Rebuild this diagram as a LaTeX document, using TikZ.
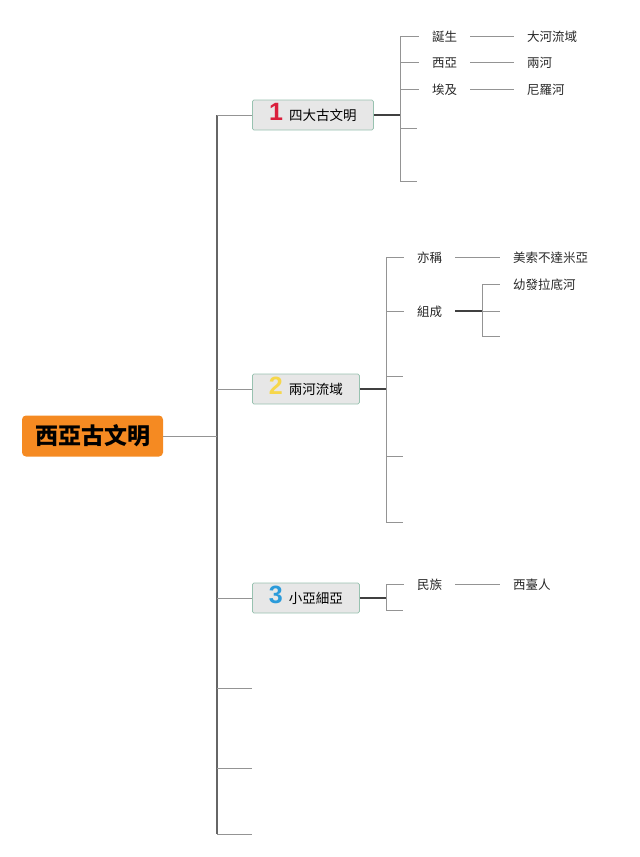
\documentclass[tikz,border=0pt]{standalone}
\usepackage{fontspec}
\setmainfont{Noto Sans CJK TC}
\newfontfamily\numfont{Liberation Sans}
\usetikzlibrary{positioning,calc}
\definecolor{rootorange}{HTML}{F58A22}
\definecolor{boxgray}{HTML}{E7E7E7}
\definecolor{boxedge}{HTML}{98C2B0}
\definecolor{numred}{HTML}{DA1F3C}
\definecolor{numyellow}{HTML}{F6D74B}
\definecolor{numblue}{HTML}{2B9BDA}
\tikzset{rootbox/.style={fill=rootorange,rounded corners=4pt,minimum width=141pt,minimum height=41pt,
		inner sep=0pt,font=\fontsize{23}{26}\selectfont\bfseries}}
\tikzset{topic/.style={fill=boxgray,draw=boxedge,line width=0.8pt,rounded corners=1.5pt,anchor=west,
		minimum height=30pt,inner ysep=0pt,text height=1.0em,text depth=0em,
		font=\fontsize{13.5}{16}\selectfont}}
\tikzset{leaf/.style={anchor=west,inner xsep=13pt,inner ysep=0pt,text height=1.0em,text depth=0em,
		font=\fontsize{12.5}{15}\selectfont,text=black!85}}
\tikzset{trunkline/.style={draw=black!60,line width=1.2pt}}
\tikzset{stemline/.style={draw=black!42,line width=1pt}}
\tikzset{darkline/.style={draw=black!75,line width=1.2pt}}
\newcommand{\topicnum}[2]{\smash{\textcolor{#1}{\numfont\fontsize{25}{25}\selectfont\bfseries #2}}\hspace{6pt}}

\begin{document}
\begin{tikzpicture}[x=1pt,y=-1pt]
	\useasboundingbox (0,0) rectangle (640,857);
	
	\node[rootbox] (root) at (92.5,436) {西亞古文明};
	\node[topic,minimum width=121pt] (t1) at (252,115) {\topicnum{numred}{1}四大古文明};
	\node[topic,minimum width=107pt] (t2) at (252,389) {\topicnum{numyellow}{2}兩河流域};
	\node[topic,minimum width=107pt] (t3) at (252,598) {\topicnum{numblue}{3}小亞細亞};
	
	% trunk
	\coordinate (trTop) at (217,115);
	\coordinate (trBot) at (217,834);
	\draw[trunkline] (trTop) -- (trBot);
	\draw[stemline] (root.east) -- (root.east -| trTop);
	\foreach \n in {t1,t2,t3}
		\draw[stemline] (\n.west -| trTop) -- (\n.west);
	\foreach \y [count=\i] in {688,768,834}{
		\coordinate (e\i) at (252,\y);
		\draw[stemline] (e\i -| trTop) -- (e\i);
	}
	
	% 1
	\node[leaf] (l1a) at (419,36) {誕生};
	\node[leaf] (l1b) at (419,62) {西亞};
	\node[leaf] (l1c) at (419,89) {埃及};
	\node[leaf] (r1a) at (514,36) {大河流域};
	\node[leaf] (r1b) at (514,62) {兩河};
	\node[leaf] (r1c) at (514,89) {尼羅河};
	\coordinate (f1) at (400,115);
	\coordinate (e1d) at (417,128);
	\coordinate (e1e) at (417,181);
	\draw[darkline] (t1.east) -- (f1);
	\draw[stemline] (l1a.west -| f1) -- (e1e -| f1);
	\foreach \n in {l1a,l1b,l1c}
		\draw[stemline] (\n.west -| f1) -- (\n.west);
	\foreach \n in {e1d,e1e}
		\draw[stemline] (\n -| f1) -- (\n);
	\draw[stemline] (l1a.east) -- (r1a.west);
	\draw[stemline] (l1b.east) -- (r1b.west);
	\draw[stemline] (l1c.east) -- (r1c.west);
	
	% 2
	\node[leaf] (l2a) at (404,257) {亦稱};
	\node[leaf] (l2b) at (404,311) {組成};
	\node[leaf] (r2a) at (500,257) {美索不達米亞};
	\node[leaf] (r2b) at (500,284) {幼發拉底河};
	\coordinate (f2) at (386,389);
	\coordinate (g2) at (482,311);
	\coordinate (e2b) at (500,311);
	\coordinate (e2c) at (500,336);
	\foreach \y [count=\i] in {376,456,522}
		\coordinate (e2\i) at (403,\y);
	\draw[darkline] (t2.east) -- (f2);
	\draw[stemline] (l2a.west -| f2) -- (e23 -| f2);
	\foreach \n in {l2a.west,l2b.west,e21,e22,e23}
		\draw[stemline] (\n -| f2) -- (\n);
	\draw[stemline] (l2a.east) -- (r2a.west);
	\draw[darkline] (l2b.east) -- (g2);
	\draw[stemline] (r2b.west -| g2) -- (e2c -| g2);
	\foreach \n in {r2b.west,e2b,e2c}
		\draw[stemline] (\n -| g2) -- (\n);
	
	% 3
	\node[leaf] (l3a) at (404,584) {民族};
	\node[leaf] (r3a) at (500,584) {西臺人};
	\coordinate (f3) at (386,598);
	\coordinate (e3b) at (403,610);
	\draw[darkline] (t3.east) -- (f3);
	\draw[stemline] (l3a.west -| f3) -- (e3b -| f3);
	\draw[stemline] (l3a.west -| f3) -- (l3a.west);
	\draw[stemline] (e3b -| f3) -- (e3b);
	\draw[stemline] (l3a.east) -- (r3a.west);
\end{tikzpicture}
\end{document}
